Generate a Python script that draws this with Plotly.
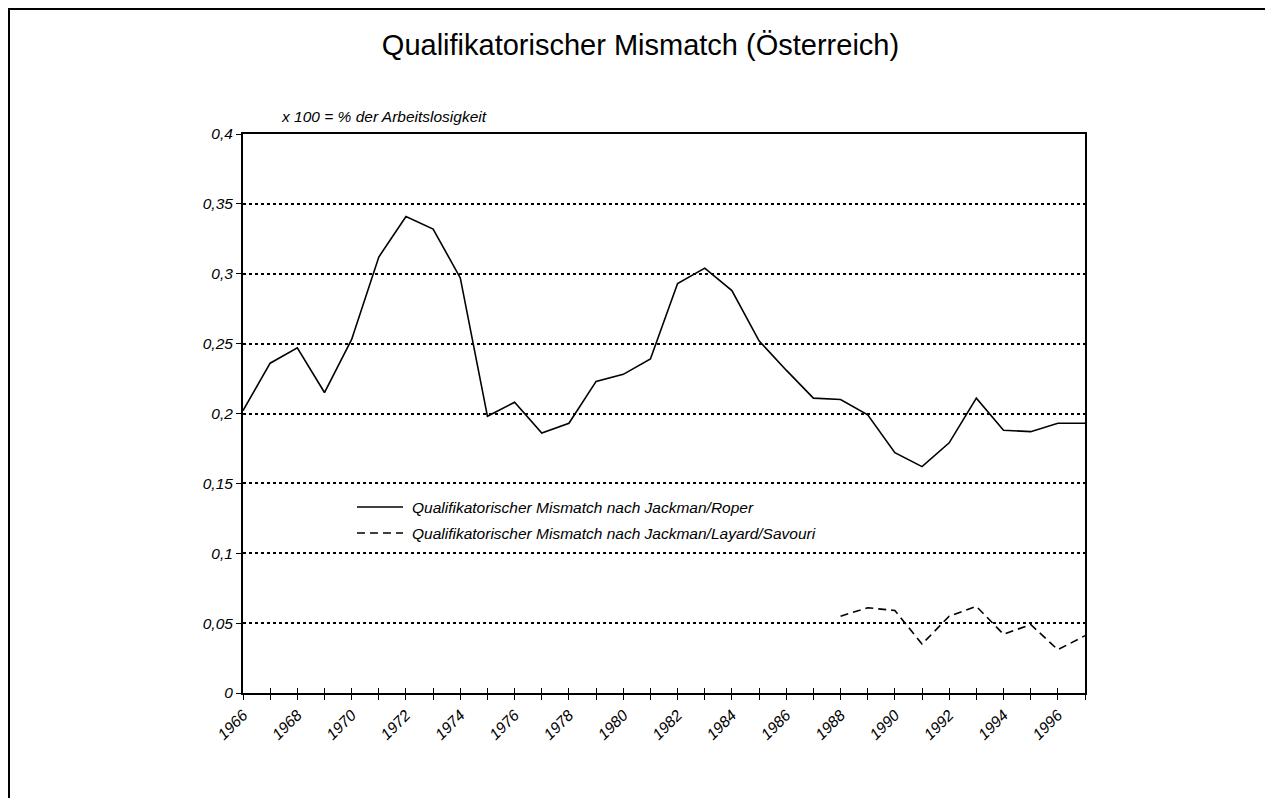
import plotly.graph_objects as go

# ---- data ----
years = list(range(1966, 1998))
roper = [0.202, 0.236, 0.247, 0.215, 0.253, 0.312, 0.341, 0.332, 0.297, 0.198,
         0.208, 0.186, 0.193, 0.223, 0.228, 0.239, 0.293, 0.304, 0.288, 0.252,
         0.231, 0.211, 0.210, 0.199, 0.172, 0.162, 0.179, 0.211, 0.188, 0.187,
         0.193, 0.193]
layard_years = list(range(1988, 1998))
layard = [0.055, 0.061, 0.059, 0.035, 0.055, 0.062, 0.042, 0.049, 0.031, 0.041]

name_roper = "Qualifikatorischer Mismatch nach Jackman/Roper"
name_layard = "Qualifikatorischer Mismatch nach Jackman/Layard/Savouri"
title = "Qualifikatorischer Mismatch (Österreich)"
y_note = "x 100 = % der Arbeitslosigkeit"

y_ticks = [0, 0.05, 0.1, 0.15, 0.2, 0.25, 0.3, 0.35, 0.4]
y_ticktext = ["0", "0,05", "0,1", "0,15", "0,2", "0,25", "0,3", "0,35", "0,4"]
x_ticks = years
x_ticktext = [str(y) if (y - 1966) % 2 == 0 else "" for y in years]

FONT = "Liberation Sans, Arial, sans-serif"

# figure geometry (page body adds 8px offset)
W, H = 1265, 790
L, R, T, B = 235, 1077, 126, 685
PW, PH = R - L, B - T


def px(X):
    return (X - L) / PW


def py(Y):
    return (B - Y) / PH


fig = go.Figure()
fig.add_trace(go.Scatter(x=years, y=roper, mode="lines", name=name_roper,
                         line=dict(color="black", width=1.6), showlegend=False))
fig.add_trace(go.Scatter(x=layard_years, y=layard, mode="lines", name=name_layard,
                         line=dict(color="black", width=1.6, dash="8px,5px"),
                         showlegend=False))
# invisible trace for overlaid axis (inner tick marks)
fig.add_trace(go.Scatter(x=[1966, 1997], y=[0, 0], mode="lines", xaxis="x2",
                         line=dict(color="rgba(0,0,0,0)", width=0),
                         showlegend=False, hoverinfo="skip"))

legend_items = [(name_roper, 499, "solid"), (name_layard, 525, "8px,5px")]
shapes = [dict(type="rect", xref="paper", yref="paper",
               x0=px(1), x1=px(1263), y0=py(810), y1=py(1),
               line=dict(color="black", width=2), layer="below")]
annotations = [dict(text=y_note, xref="paper", yref="paper",
                    x=px(271), y=py(109), xanchor="left", yanchor="middle",
                    showarrow=False,
                    font=dict(size=15.5, style="italic", family=FONT))]
for name, yy, dash in legend_items:
    shapes.append(dict(type="line", xref="paper", yref="paper",
                       x0=px(349), x1=px(395), y0=py(yy), y1=py(yy),
                       line=dict(color="black", width=1.6, dash=dash)))
    annotations.append(dict(text=name, xref="paper", yref="paper",
                            x=px(402), y=py(yy), xanchor="left", yanchor="middle",
                            showarrow=False,
                            font=dict(size=15.5, style="italic", family=FONT)))

fig.update_layout(
    width=W, height=H,
    margin=dict(l=L, r=W - R, t=T, b=H - B),
    paper_bgcolor="white", plot_bgcolor="white",
    font=dict(family=FONT, color="black"),
    title=dict(text=title, x=0.5, xanchor="center", y=1 - 37 / H, yanchor="middle",
               font=dict(size=29, family=FONT, color="black")),
    xaxis=dict(range=[1966, 1997], tickmode="array", tickvals=x_ticks,
               ticktext=x_ticktext, tickangle=-45, ticks="outside", ticklen=5,
               tickwidth=1.3, tickcolor="black",
               showline=True, linecolor="black", linewidth=2, mirror=True,
               showgrid=False, zeroline=False,
               tickfont=dict(size=15.5, style="italic", family=FONT)),
    xaxis2=dict(range=[1966, 1997], overlaying="x", anchor="y", side="bottom",
                tickmode="array", tickvals=x_ticks, ticks="inside", ticklen=5,
                tickwidth=1.3, tickcolor="black", showticklabels=False,
                showline=False, showgrid=False, zeroline=False),
    yaxis=dict(range=[0, 0.4], tickmode="array", tickvals=y_ticks,
               ticktext=y_ticktext, ticks="outside", ticklen=5, tickwidth=1.3,
               tickcolor="black",
               showline=True, linecolor="black", linewidth=2, mirror=True,
               showgrid=True, gridcolor="black", griddash="dot", gridwidth=1.5,
               zeroline=False,
               tickfont=dict(size=15.5, style="italic", family=FONT)),
    showlegend=False,
    annotations=annotations,
    shapes=shapes,
)

fig.write_html("out.html")
